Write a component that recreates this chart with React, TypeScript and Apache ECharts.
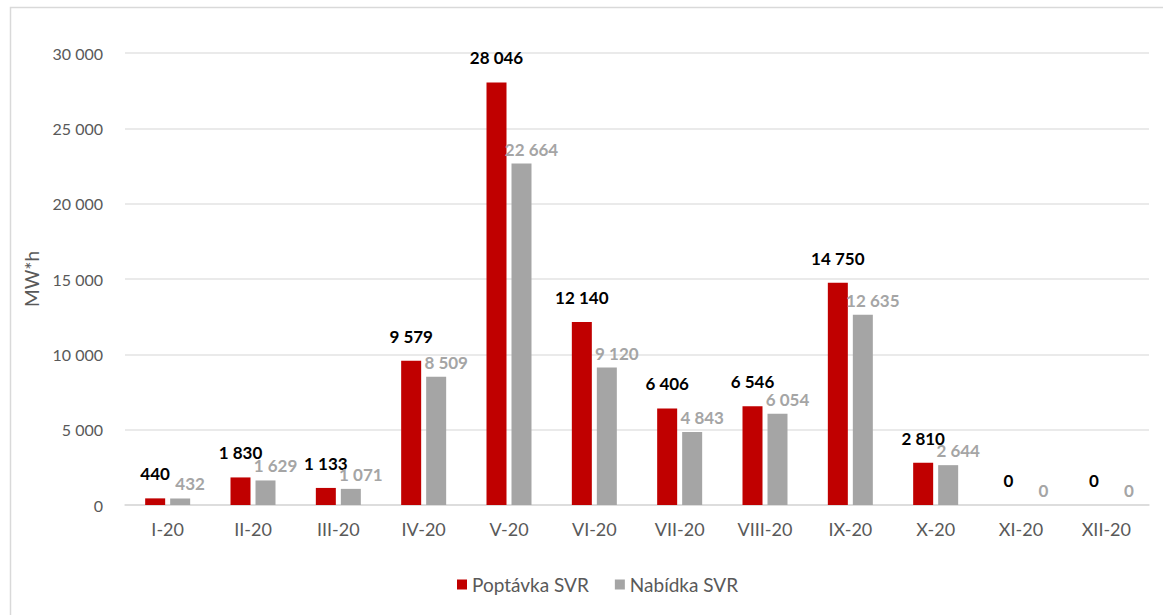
import React, { useEffect, useRef } from "react";
import * as echarts from "echarts";

const categories = ["I-20", "II-20", "III-20", "IV-20", "V-20", "VI-20", "VII-20", "VIII-20", "IX-20", "X-20", "XI-20", "XII-20"];
const poptavka = [440, 1830, 1133, 9579, 28046, 12140, 6406, 6546, 14750, 2810, 0, 0];
const nabidka = [432, 1629, 1071, 8509, 22664, 9120, 4843, 6054, 12635, 2644, 0, 0];
const seriesNames = ["Poptávka SVR", "Nabídka SVR"];
const yAxisName = "MW*h";

const fmt = (v: number) => String(Math.round(v)).replace(/\B(?=(\d{3})+(?!\d))/g, " ");

const FONT = "Lato, 'Open Sans', sans-serif";

export default function App() {
  const ref = useRef<HTMLDivElement>(null);
  useEffect(() => {
    if (!ref.current) return;
    const chart = echarts.init(ref.current, null, { renderer: "svg" });
    chart.setOption({
      animation: false,
      backgroundColor: "#ffffff",
      textStyle: { fontFamily: FONT },
      graphic: [
        {
          type: "rect",
          left: 8,
          top: 5,
          shape: { x: 0, y: 0, width: 1170, height: 620 },
          style: { fill: "none", stroke: "#d9d9d9", lineWidth: 1.5 },
          silent: true,
          z: -1,
        },
      ],
      grid: { left: 125, right: 14, top: 53, bottom: 110, containLabel: false },
      legend: {
        bottom: 16,
        left: 452,
        icon: "rect",
        itemWidth: 10,
        itemHeight: 10,
        itemGap: 26,
        textStyle: { color: "#595959", fontSize: 19, fontFamily: FONT },
        data: seriesNames,
      },
      xAxis: {
        type: "category",
        data: categories,
        axisLine: { show: true, lineStyle: { color: "#d9d9d9", width: 1.5 } },
        axisTick: { show: false },
        axisLabel: { color: "#595959", fontSize: 18, margin: 15, fontFamily: FONT },
      },
      yAxis: {
        type: "value",
        min: 0,
        max: 30000,
        interval: 5000,
        name: yAxisName,
        nameLocation: "middle",
        nameGap: 84,
        nameRotate: 90,
        nameTextStyle: { color: "#595959", fontSize: 19, fontFamily: FONT },
        axisLine: { show: false },
        axisTick: { show: false },
        axisLabel: { color: "#595959", fontSize: 16, margin: 22, fontFamily: FONT, formatter: (v: number) => fmt(v) },
        splitLine: { show: true, lineStyle: { color: "#e3e3e3", width: 1.5 } },
      },
      series: [
        {
          name: seriesNames[0],
          type: "bar",
          data: poptavka,
          barWidth: 20,
          barGap: "25%",
          itemStyle: { color: "#c00000" },
          label: {
            show: true,
            position: "top",
            distance: 16,
            offset: [0, 0],
            color: "#000000",
            fontWeight: "bold",
            fontSize: 17,
            fontFamily: FONT,
            formatter: (p: any) => fmt(p.value),
          },
        },
        {
          name: seriesNames[1],
          type: "bar",
          data: nabidka,
          barWidth: 20,
          itemStyle: { color: "#a5a5a5" },
          label: {
            show: true,
            position: "top",
            distance: 6,
            offset: [10, 0],
            color: "#a5a5a5",
            fontWeight: "bold",
            fontSize: 17,
            fontFamily: FONT,
            formatter: (p: any) => fmt(p.value),
          },
        },
      ],
    });
    return () => chart.dispose();
  }, []);
  return (
    <div
      ref={ref}
      style={{ position: "fixed", left: 0, top: 0, width: 1163, height: 615 }}
    />
  );
}
